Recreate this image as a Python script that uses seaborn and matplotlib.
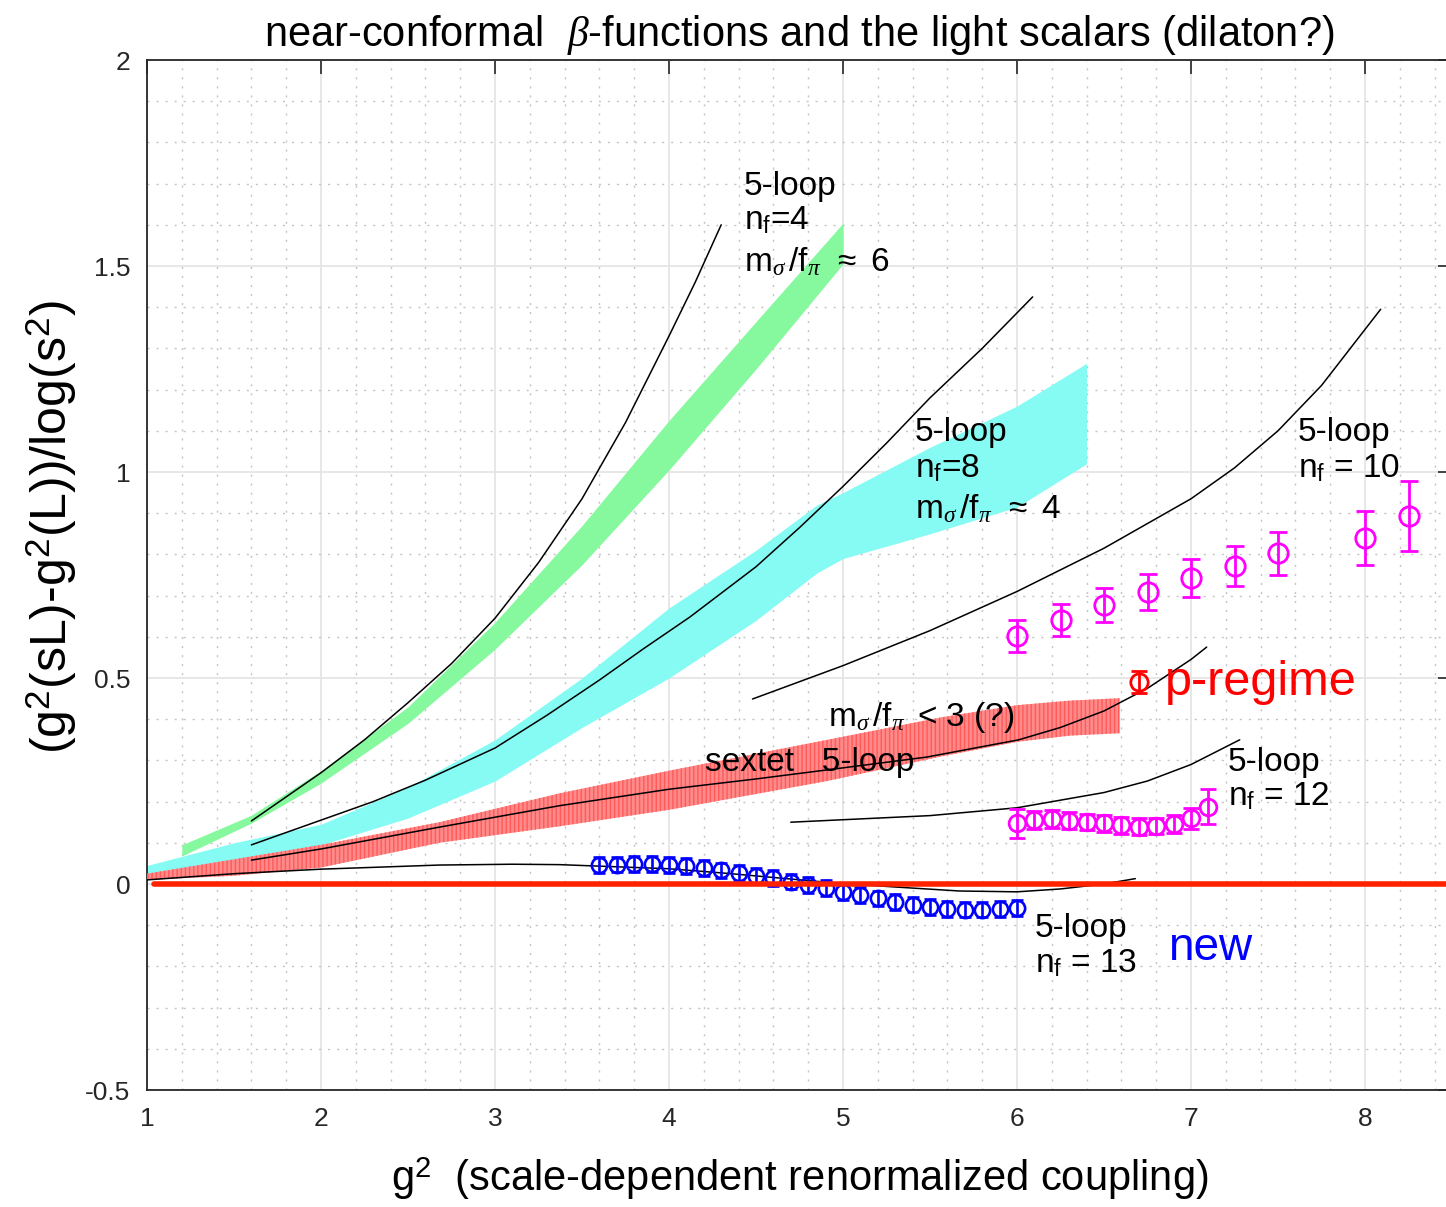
import numpy as np
import pandas as pd
import matplotlib
matplotlib.use("Agg")
import matplotlib.pyplot as plt
import seaborn as sns
from matplotlib.ticker import MultipleLocator, FixedLocator

# ---------------- data ----------------
# green band: 5-loop nf=4 region, m_sigma/f_pi ~ 6
green_x = [1.2, 1.6, 2.0, 2.5, 3.0, 3.5, 4.0, 4.5, 5.0]
green_lo = [0.068, 0.148, 0.245, 0.39, 0.57, 0.775, 1.005, 1.25, 1.505]
green_hi = [0.095, 0.167, 0.275, 0.43, 0.635, 0.87, 1.125, 1.365, 1.604]

# cyan band: nf=8, m_sigma/f_pi ~ 4
cyan_x = [1.0, 1.5, 2.0, 2.5, 3.0, 3.5, 4.0, 4.5, 4.85, 5.0, 5.5, 6.0, 6.4]
cyan_lo = [0.02, 0.06, 0.095, 0.16, 0.25, 0.38, 0.50, 0.64, 0.755, 0.79, 0.85, 0.915, 1.02]
cyan_hi = [0.045, 0.10, 0.145, 0.235, 0.35, 0.50, 0.67, 0.81, 0.92, 0.95, 1.06, 1.16, 1.264]

# red hatched band: sextet
sext_x = [1.0, 1.5, 2.0, 2.68, 3.37, 4.0, 4.91, 5.57, 6.0, 6.3, 6.59]
sext_lo = [0.01, 0.02, 0.04, 0.10, 0.14, 0.18, 0.25, 0.31, 0.345, 0.36, 0.366]
sext_hi = [0.025, 0.06, 0.095, 0.15, 0.22, 0.275, 0.35, 0.405, 0.434, 0.445, 0.451]

# 5-loop curves
nf4_x = [1.6, 2.0, 2.25, 2.5, 2.75, 3.0, 3.25, 3.5, 3.75, 4.0, 4.15, 4.3]
nf4_y = [0.153, 0.27, 0.35, 0.44, 0.535, 0.645, 0.78, 0.935, 1.12, 1.33, 1.46, 1.60]
nf8_x = [1.6, 2.0, 2.3, 2.6, 3.0, 3.3, 3.6, 3.85, 4.12, 4.5, 4.75, 5.0, 5.25, 5.5, 5.8, 6.09]
nf8_y = [0.095, 0.155, 0.20, 0.252, 0.33, 0.41, 0.495, 0.57, 0.648, 0.77, 0.865, 0.965, 1.07, 1.18, 1.30, 1.425]
nf10_x = [4.48, 5.0, 5.5, 6.0, 6.5, 7.0, 7.25, 7.5, 7.75, 8.09]
nf10_y = [0.449, 0.53, 0.615, 0.71, 0.815, 0.935, 1.01, 1.10, 1.21, 1.395]
sext5_x = [1.6, 2.0, 2.68, 3.37, 4.0, 4.5, 4.91, 5.48, 6.01, 6.25, 6.5, 6.75, 7.0, 7.09]
sext5_y = [0.058, 0.085, 0.138, 0.19, 0.23, 0.255, 0.277, 0.308, 0.35, 0.38, 0.42, 0.475, 0.545, 0.575]
nf12_x = [4.70, 5.0, 5.5, 6.0, 6.5, 6.75, 7.0, 7.28]
nf12_y = [0.150, 0.156, 0.166, 0.185, 0.222, 0.25, 0.29, 0.35]
nf13_x = [1.0, 1.5, 2.0, 2.68, 3.1, 3.37, 4.0, 4.33, 4.94, 5.29, 5.67, 6.0, 6.25, 6.5, 6.68]
nf13_y = [0.01, 0.025, 0.036, 0.046, 0.048, 0.047, 0.037, 0.026, 0.003, -0.007, -0.017, -0.019, -0.012, 0.0, 0.013]

# blue data (nf=13, new)
blue_x = [3.6, 3.7, 3.8, 3.9, 4.0, 4.1, 4.2, 4.3, 4.4, 4.5, 4.6, 4.7, 4.8,
          4.9, 5.0, 5.1, 5.2, 5.3, 5.4, 5.5, 5.6, 5.7, 5.8, 5.9, 6.0]
blue_y = [0.046, 0.047, 0.048, 0.048, 0.046, 0.043, 0.039, 0.033, 0.027, 0.020,
          0.014, 0.006, -0.002, -0.010, -0.019, -0.027, -0.035, -0.043, -0.050,
          -0.056, -0.060, -0.062, -0.062, -0.061, -0.058]
blue_err = [0.019] * 25

# magenta nf=10
m10_x = [6.0, 6.25, 6.5, 6.75, 7.0, 7.25, 7.5, 8.0, 8.25]
m10_y = [0.602, 0.641, 0.677, 0.709, 0.743, 0.772, 0.803, 0.840, 0.893]
m10_err = [0.038, 0.038, 0.042, 0.044, 0.046, 0.048, 0.052, 0.066, 0.085]

# magenta nf=12
m12_x = [6.0, 6.1, 6.2, 6.3, 6.4, 6.5, 6.6, 6.7, 6.8, 6.9, 7.0, 7.1]
m12_y = [0.147, 0.155, 0.157, 0.154, 0.151, 0.147, 0.142, 0.139, 0.141, 0.146, 0.159, 0.188]
m12_err = [0.036, 0.022, 0.022, 0.02, 0.02, 0.02, 0.02, 0.02, 0.02, 0.021, 0.025, 0.042]

# p-regime marker
p_x = [6.7]
p_y = [0.49]
p_err = [0.026]

xticks = [1, 2, 3, 4, 5, 6, 7, 8]
yticks = [-0.5, 0, 0.5, 1, 1.5, 2]
ytick_labels = ["-0.5", "0", "0.5", "1", "1.5", "2"]

# ---------------- style ----------------
sns.set_theme(style="white")
plt.rcParams["font.family"] = ["Liberation Sans", "DejaVu Sans"]
plt.rcParams["mathtext.fontset"] = "custom"
plt.rcParams["mathtext.rm"] = "Liberation Sans"
plt.rcParams["mathtext.it"] = "Liberation Serif:italic"
plt.rcParams["mathtext.bf"] = "Liberation Sans:bold"
plt.rcParams["hatch.linewidth"] = 1.0
plt.rcParams["text.color"] = "black"
plt.rcParams["axes.labelcolor"] = "black"

fig = plt.figure(figsize=(14.46, 12.07), dpi=100)
ax = fig.add_axes([147 / 1446, 1 - 1090 / 1207, 1305 / 1446, 1030 / 1207])

ax.set_xlim(1, 8.5)
ax.set_ylim(-0.5, 2)

# grid
ax.xaxis.set_major_locator(FixedLocator(xticks))
ax.yaxis.set_major_locator(FixedLocator(yticks))
ax.set_yticklabels(ytick_labels)
ax.xaxis.set_minor_locator(MultipleLocator(0.2))
ax.yaxis.set_minor_locator(MultipleLocator(0.1))
ax.grid(which="major", color="#e3e3e3", lw=1.2, ls="-", zorder=0)
ax.grid(which="minor", color="#c4c4c4", lw=1.0, ls=(0, (1.5, 5)), zorder=0)
ax.set_axisbelow(True)

# bands
ax.fill_between(green_x, green_lo, green_hi, color="#86f99e", lw=0, zorder=2)
ax.fill_between(cyan_x, cyan_lo, cyan_hi, color="#86fbf3", lw=0, zorder=2)
ax.fill_between(sext_x, sext_lo, sext_hi, facecolor="#ff8a8a", edgecolor="#ff5a5a",
                hatch="||||", lw=0, zorder=3)

# 5-loop curves
for cx, cy in [(nf4_x, nf4_y), (nf8_x, nf8_y), (nf10_x, nf10_y),
               (sext5_x, sext5_y), (nf12_x, nf12_y), (nf13_x, nf13_y)]:
    sns.lineplot(x=cx, y=cy, ax=ax, color="black", lw=1.1, sort=False,
                 estimator=None, zorder=4)

# data points
ax.errorbar(blue_x, blue_y, yerr=blue_err, fmt="o", ms=11, mfc="none", mec="#0000ff",
            mew=1.9, ecolor="#0000ff", elinewidth=1.9, capsize=4.5, capthick=1.9, zorder=5)
ax.errorbar(m10_x, m10_y, yerr=m10_err, fmt="o", ms=14, mfc="none", mec="#ff00ff",
            mew=2.0, ecolor="#ff00ff", elinewidth=2.0, capsize=6.5, capthick=2.0, zorder=5)
ax.errorbar(m12_x, m12_y, yerr=m12_err, fmt="o", ms=12, mfc="none", mec="#ff00ff",
            mew=2.0, ecolor="#ff00ff", elinewidth=2.0, capsize=6, capthick=2.0, zorder=5)
ax.errorbar(p_x, p_y, yerr=p_err, fmt="o", ms=12.5, mfc="none", mec="#ff0000",
            mew=2.0, ecolor="#ff0000", elinewidth=2.0, capsize=6, capthick=2.0, zorder=5)

# zero line
ax.axhline(0, xmin=0.04 / 7.5, xmax=1, color="#ff2200", lw=4, zorder=6)

# texts
tfs = 24
def T(x, y, s, **kw):
    kw.setdefault("fontsize", tfs)
    ax.text(x, y, s, va="center", ha="left", zorder=7, **kw)

T(4.43, 1.694, "5-loop")
T(4.43, 1.612, r"n$_{\rm f}$=4")
T(4.43, 1.51, r"m$_{\sigma}\,$/f$_{\pi}\,$ $\approx$ 6")

T(5.414, 1.095, "5-loop")
T(5.414, 1.01, r"n$_{\rm f}$=8")
T(5.414, 0.91, r"m$_{\sigma}\,$/f$_{\pi}\,$ $\approx$ 4")

T(7.615, 1.095, "5-loop")
T(7.615, 1.01, r"n$_{\rm f}$ = 10")

T(4.914, 0.405, r"m$_{\sigma}\,$/f$_{\pi}\,$ < 3 (?)")
T(4.207, 0.296, "sextet   5-loop")

T(7.213, 0.296, "5-loop")
T(7.213, 0.213, r"n$_{\rm f}$ = 12")

T(6.103, -0.107, "5-loop")
T(6.103, -0.192, r"n$_{\rm f}$ = 13")

T(6.868, -0.155, "new", fontsize=33, color="#0000ff")
T(6.851, 0.488, "p-regime", fontsize=35, color="#ff0000")

# axes cosmetics
for s in ax.spines.values():
    s.set_color("#262626")
    s.set_linewidth(1.3)
ax.tick_params(which="major", direction="in", length=10, width=1.2, colors="#262626",
               top=True, right=True, labelsize=19, pad=12)
ax.tick_params(which="minor", length=0, top=True, right=True)

ax.set_title(r"near-conformal  $\beta$-functions and the light scalars (dilaton?)",
             fontsize=30, pad=10)
ax.set_xlabel(r"g$^{2}$  (scale-dependent renormalized coupling)", fontsize=30, labelpad=18)
ax.set_ylabel(r"(g$^{2}$(sL)-g$^{2}$(L))/log(s$^{2}$)", fontsize=36)
ax.yaxis.set_label_coords(-0.052, 0.546)

fig.savefig("out.png", dpi=100)
